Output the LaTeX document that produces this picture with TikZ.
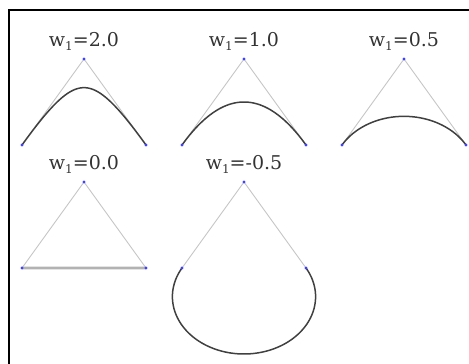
\documentclass[tikz,border=0pt]{standalone}
\usepackage{fontspec}
\setmainfont{DejaVu Serif}
\usepackage{tikz}

\newcommand{\wsub}{w\raisebox{-0.45ex}{\fontsize{12}{12}\selectfont 1}}

\begin{document}
\begin{tikzpicture}[
  x=1pt, y=-1pt,
  frame/.style={line width=2pt, black},
  poly/.style={gray!45, line width=0.9pt},
  curve/.style={black!75, line width=1.5pt},
  flat/.style={gray!60, line width=2.6pt},
  ctrl/.style={circle, fill=blue!75, inner sep=0pt, minimum size=3.4pt},
  wlabel/.style={font=\fontsize{19}{21}\selectfont, text=black!80, inner sep=0pt}
]
\useasboundingbox (0,0) rectangle (469,364);

% frame
\draw[frame] (9,364) -- (9,9.5) -- (469,9.5);

% rational quadratic curves, P1 at (\cx,\cy), weights w0=w2=1
\foreach \name/\cx/\cy/\w/\sty in {a/84/59/2.0/curve, b/244/59/1.0/curve,
    c/404/59/0.5/curve, d/84/182/0.0/flat, e/244/182/-0.5/curve}{
  \coordinate (\name1) at (\cx,\cy);
  \coordinate (\name0) at (\cx-62,\cy+86);
  \coordinate (\name2) at (\cx+62,\cy+86);
  \draw[poly] (\name0) -- (\name1) -- (\name2);
  \draw[\sty, shift={(\name1)}] plot[domain=0:1, samples=80, variable=\t, smooth]
    ({62*(2*\t-1)/((1-\t)^2+2*\w*\t*(1-\t)+\t^2)},
     {86*((1-\t)^2+\t^2)/((1-\t)^2+2*\w*\t*(1-\t)+\t^2)});
  \node[ctrl] at (\name0) {};
  \node[ctrl] at (\name1) {};
  \node[ctrl] at (\name2) {};
  \node[wlabel, anchor=base] (\name lbl) at (\cx,\cy-13) {\wsub=\w};
}
\end{tikzpicture}
\end{document}
